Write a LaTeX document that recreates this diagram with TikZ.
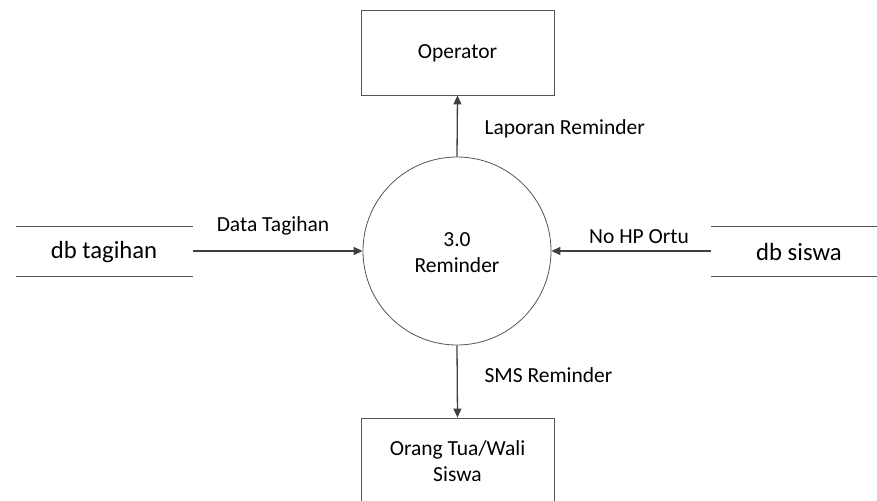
\documentclass[tikz,border=0pt]{standalone}
\usepackage{fontspec}
\setmainfont{Carlito}
\usetikzlibrary{arrows.meta}
\definecolor{edge}{HTML}{404040}
\definecolor{frame}{HTML}{555555}
\begin{document}
\begin{tikzpicture}[x=1pt,y=-1pt,
  entity/.style={draw=frame,line width=0.8pt,minimum width=193pt,minimum height=85pt,inner sep=0pt},
  proc/.style={draw=frame,line width=0.8pt,circle,minimum size=188pt,inner sep=0pt},
  flow/.style={draw=edge,line width=1.3pt,-{Triangle[length=9pt,width=8pt]}},
  lbl/.style={font=\fontsize{21.5}{26}\selectfont,text=black},
  dbl/.style={font=\fontsize{24.7}{29}\selectfont,text=black},
  storeline/.style={draw=frame,line width=0.8pt}]
\useasboundingbox (0,0) rectangle (877,500);
\node[entity] (op) at (457.5,52.5) {};
\node[lbl] (optxt) at (457.5,53) {Operator};
\node[proc] (p) at (457,251) {};
\node[lbl,align=center] (ptxt) at (457,253) {3.0\\Reminder};
\node[entity,minimum height=90pt] (ot) at (457.5,463) {};
\node[lbl,align=center] (ottxt) at (457.5,461) {Orang Tua/Wali\\Siswa};
% db tagihan
\coordinate (t1a) at (16,226.5); \coordinate (t1b) at (193,226.5);
\coordinate (t2a) at (16,276); \coordinate (t2b) at (193,276);
\draw[storeline] (t1a) -- (t1b);
\draw[storeline] (t2a) -- (t2b);
\node[dbl] (dbt) at (104,252) {db tagihan};
\coordinate (dbtE) at (193,251);
% db siswa
\coordinate (s1a) at (711,226.5); \coordinate (s1b) at (877,226.5);
\coordinate (s2a) at (711,276); \coordinate (s2b) at (877,276);
\draw[storeline] (s1a) -- (s1b);
\draw[storeline] (s2a) -- (s2b);
\node[dbl] (dbs) at (799,252) {db siswa};
\coordinate (dbsW) at (711,251);
% flows
\draw[flow] (p.north) -- (op.south);
\draw[flow] (dbtE) -- (p.west |- dbtE);
\draw[flow] (dbsW) -- (p.east |- dbsW);
\draw[flow] (p.south) -- (ot.north);
% labels
\node[lbl,anchor=west] (l1) at (481,129) {Laporan Reminder};
\node[lbl] (l2) at (273,226) {Data Tagihan};
\node[lbl] (l3) at (639,237) {No HP Ortu};
\node[lbl,anchor=west] (l4) at (481,375) {SMS Reminder};
\end{tikzpicture}
\end{document}
